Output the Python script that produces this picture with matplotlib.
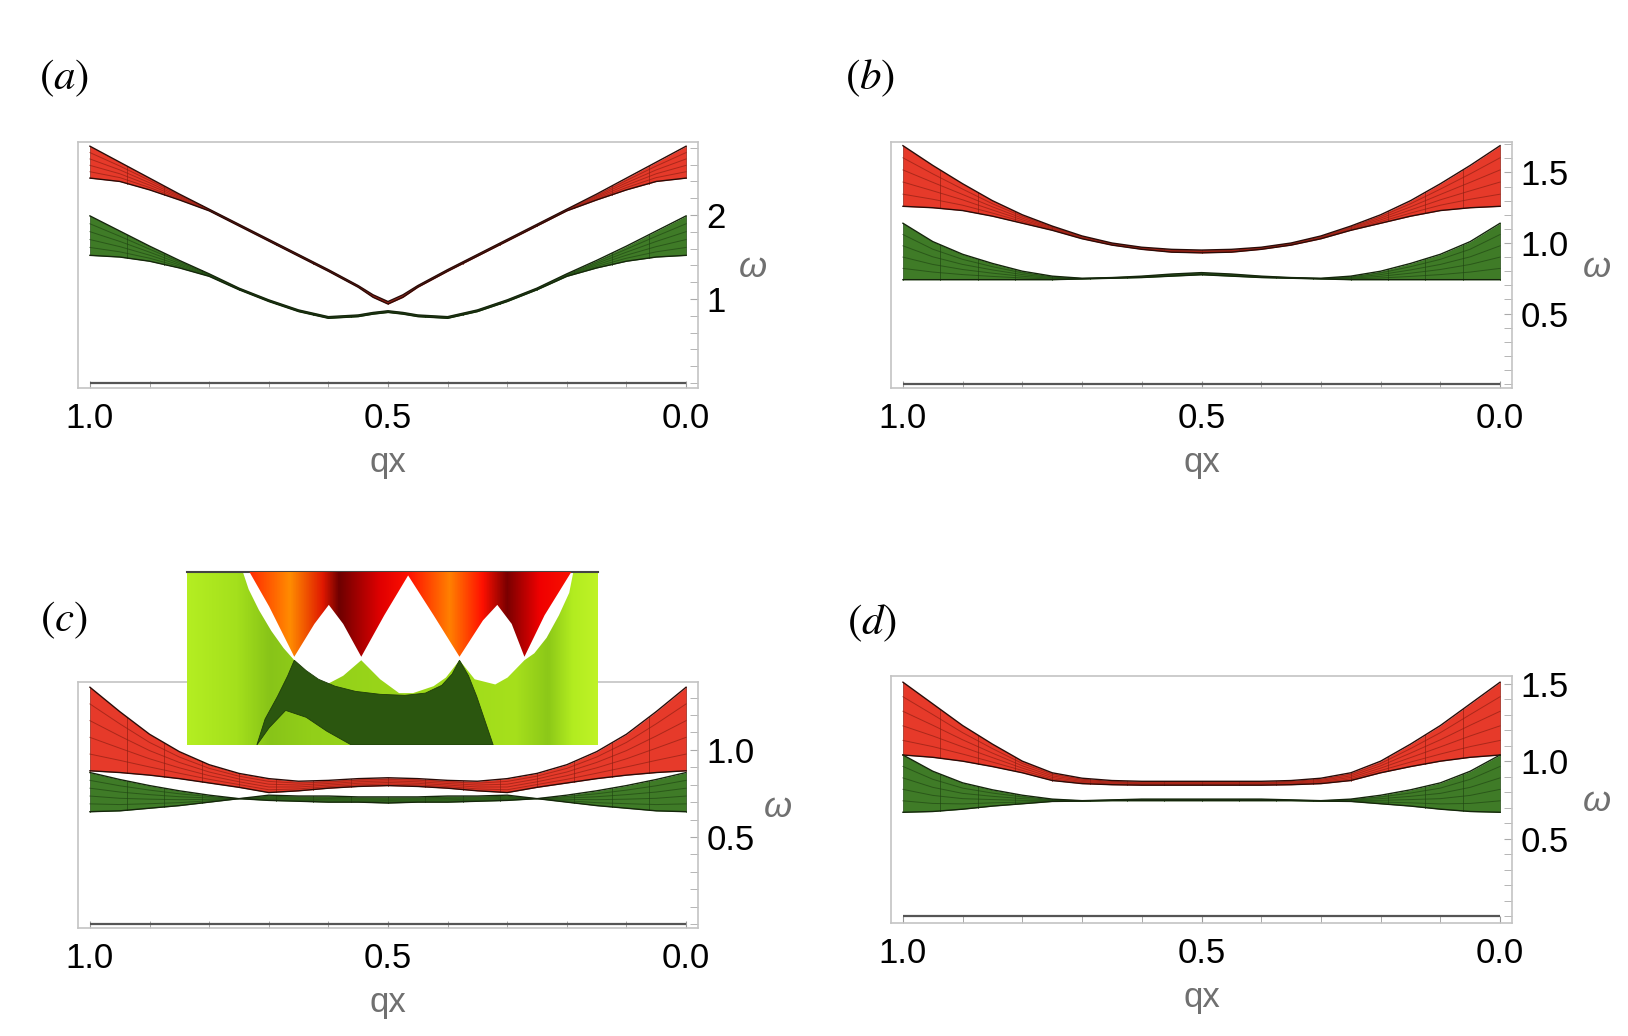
import numpy as np
import matplotlib
matplotlib.use('Agg')
import matplotlib.pyplot as plt
from matplotlib.colors import LinearSegmentedColormap
from matplotlib.patches import Polygon
from matplotlib.ticker import MultipleLocator, FixedLocator

plt.rcParams['font.family'] = ['Liberation Sans Narrow', 'Liberation Sans', 'DejaVu Sans']
plt.rcParams['mathtext.fontset'] = 'stix'

# ============ #
# Dados (lidos) #
# ============ #

qx = np.array([1.0, .95, .9, .85, .8, .75, .7, .65, .6, .55, .5,
               .45, .4, .35, .3, .25, .2, .15, .1, .05, 0.0])
qx_a = np.array([1.0, .95, .9, .85, .8, .75, .7, .65, .6, .55, .525, .5,
                 .475, .45, .4, .35, .3, .25, .2, .15, .1, .05, 0.0])

# (a)
red_hi_a = [2.82, 2.63, 2.44, 2.25, 2.07, 1.89, 1.71, 1.53, 1.35, 1.16, 1.05, 0.97,
            1.05, 1.16, 1.35, 1.53, 1.71, 1.89, 2.07, 2.25, 2.44, 2.63, 2.82]
red_lo_a = [2.44, 2.40, 2.30, 2.18, 2.05, 1.87, 1.69, 1.51, 1.33, 1.14, 1.02, 0.94,
            1.02, 1.14, 1.33, 1.51, 1.69, 1.87, 2.05, 2.18, 2.30, 2.40, 2.44]
grn_hi_a = [1.99, 1.81, 1.63, 1.46, 1.30, 1.13, 0.99, 0.87, 0.79, 0.81, 0.84, 0.86,
            0.84, 0.81, 0.79, 0.87, 0.99, 1.13, 1.30, 1.46, 1.63, 1.81, 1.99]
grn_lo_a = [1.52, 1.50, 1.45, 1.37, 1.27, 1.11, 0.97, 0.85, 0.77, 0.79, 0.82, 0.84,
            0.82, 0.79, 0.77, 0.85, 0.97, 1.11, 1.27, 1.37, 1.45, 1.50, 1.52]

# (b)
red_hi_b = [1.69, 1.55, 1.42, 1.30, 1.20, 1.12, 1.05, 1.00, 0.97, 0.955, 0.95,
            0.955, 0.97, 1.00, 1.05, 1.12, 1.20, 1.30, 1.42, 1.55, 1.69]
red_lo_b = [1.26, 1.25, 1.23, 1.19, 1.14, 1.09, 1.03, 0.985, 0.955, 0.935, 0.93,
            0.935, 0.955, 0.985, 1.03, 1.09, 1.14, 1.19, 1.23, 1.25, 1.26]
grn_hi_b = [1.14, 1.01, 0.92, 0.855, 0.80, 0.765, 0.75, 0.755, 0.765, 0.78, 0.79,
            0.78, 0.765, 0.755, 0.75, 0.765, 0.80, 0.855, 0.92, 1.01, 1.14]
grn_lo_b = [0.74, 0.74, 0.74, 0.74, 0.74, 0.74, 0.745, 0.75, 0.755, 0.765, 0.775,
            0.765, 0.755, 0.75, 0.745, 0.74, 0.74, 0.74, 0.74, 0.74, 0.74]

# (c)
red_hi_c = [1.36, 1.22, 1.09, 0.99, 0.915, 0.865, 0.835, 0.82, 0.825, 0.835, 0.84,
            0.835, 0.825, 0.82, 0.835, 0.865, 0.915, 0.99, 1.09, 1.22, 1.36]
red_lo_c = [0.88, 0.87, 0.855, 0.835, 0.81, 0.785, 0.755, 0.765, 0.78, 0.79, 0.795,
            0.79, 0.78, 0.765, 0.755, 0.785, 0.81, 0.835, 0.855, 0.87, 0.88]
grn_hi_c = [0.87, 0.83, 0.795, 0.765, 0.74, 0.72, 0.74, 0.735, 0.735, 0.73, 0.73,
            0.73, 0.735, 0.735, 0.74, 0.72, 0.74, 0.765, 0.795, 0.83, 0.87]
grn_lo_c = [0.645, 0.65, 0.665, 0.68, 0.70, 0.72, 0.71, 0.705, 0.70, 0.70, 0.695,
            0.70, 0.70, 0.705, 0.71, 0.72, 0.70, 0.68, 0.665, 0.65, 0.645]

# (d)
red_hi_d = [1.51, 1.37, 1.23, 1.11, 1.00, 0.925, 0.89, 0.875, 0.87, 0.87, 0.87,
            0.87, 0.87, 0.875, 0.89, 0.925, 1.00, 1.11, 1.23, 1.37, 1.51]
red_lo_d = [1.04, 1.025, 1.00, 0.965, 0.925, 0.875, 0.855, 0.848, 0.845, 0.845, 0.845,
            0.845, 0.845, 0.848, 0.855, 0.875, 0.925, 0.965, 1.00, 1.025, 1.04]
grn_hi_d = [1.04, 0.935, 0.86, 0.815, 0.78, 0.755, 0.745, 0.75, 0.755, 0.755, 0.755,
            0.755, 0.755, 0.75, 0.745, 0.755, 0.78, 0.815, 0.86, 0.935, 1.04]
grn_lo_d = [0.67, 0.675, 0.69, 0.71, 0.725, 0.74, 0.742, 0.745, 0.745, 0.745, 0.745,
            0.745, 0.745, 0.745, 0.742, 0.74, 0.725, 0.71, 0.69, 0.675, 0.67]

# inset de (c): perfis em coordenadas normalizadas (u, v)
inset_red_u = [0.152, 0.20, 0.261, 0.31, 0.345, 0.38, 0.424, 0.48, 0.538,
               0.60, 0.663, 0.72, 0.755, 0.79, 0.821, 0.87, 0.935]
inset_red_v = [1.0, 0.80, 0.51, 0.70, 0.81, 0.70, 0.51, 0.75, 0.98,
               0.75, 0.51, 0.72, 0.81, 0.70, 0.51, 0.75, 1.0]
inset_gap_u = [0.136, 0.94, 0.93, 0.905, 0.875, 0.845, 0.821, 0.78, 0.75, 0.70, 0.663,
               0.63, 0.60, 0.55, 0.516, 0.47, 0.424, 0.38, 0.34, 0.30, 0.261,
               0.235, 0.205, 0.175, 0.15]
inset_gap_v = [1.0, 1.0, 0.88, 0.75, 0.62, 0.53, 0.49, 0.39, 0.35, 0.38, 0.49,
               0.39, 0.34, 0.30, 0.30, 0.38, 0.49, 0.40, 0.35, 0.40, 0.49,
               0.56, 0.66, 0.78, 0.90]
inset_dark_u = [0.261, 0.29, 0.32, 0.36, 0.41, 0.47, 0.53, 0.58, 0.62, 0.645, 0.663,
                0.685, 0.705, 0.725, 0.745, 0.40, 0.34, 0.29, 0.24, 0.20, 0.17,
                0.19, 0.22, 0.245]
inset_dark_v = [0.49, 0.43, 0.38, 0.34, 0.31, 0.293, 0.287, 0.30, 0.345, 0.41, 0.49,
                0.40, 0.28, 0.14, 0.0, 0.0, 0.08, 0.16, 0.20, 0.10, 0.0,
                0.15, 0.28, 0.40]

W, H = 1628, 1036


def band(ax, x, lo, hi, face, edge, mesh):
    x = np.asarray(x); lo = np.asarray(lo); hi = np.asarray(hi)
    ax.fill_between(x, lo, hi, color=face, lw=0, zorder=2)
    for f in (0.2, 0.4, 0.6, 0.8):
        ax.plot(x, lo + f * (hi - lo), color=mesh, lw=0.7, alpha=0.65, zorder=3)
    for q in np.arange(0, 1.0001, 1 / 16):
        y0 = np.interp(q, x[::-1], lo[::-1])
        y1 = np.interp(q, x[::-1], hi[::-1])
        ax.plot([q, q], [y0, y1], color=mesh, lw=0.7, alpha=0.65, zorder=3)
    ax.plot(x, hi, color=edge, lw=1.0, zorder=4)
    ax.plot(x, lo, color=edge, lw=1.0, zorder=4)


def style(ax, ylim, yticks, ylabels, yminor, wx):
    ax.set_xlim(1.02, -0.02)
    ax.set_ylim(*ylim)
    for s in ax.spines.values():
        s.set_color('#c4c4c4')
        s.set_linewidth(1.2)
    ax.xaxis.set_major_locator(FixedLocator([1.0, 0.5, 0.0]))
    ax.set_xticklabels(['1.0', '0.5', '0.0'])
    ax.xaxis.set_minor_locator(MultipleLocator(0.1))
    ax.tick_params(axis='x', which='both', direction='in', length=5, color='#999999',
                   labelsize=25, pad=10)
    ax.yaxis.tick_right()
    ax.set_yticks(yticks)
    ax.set_yticklabels(ylabels)
    ax.yaxis.set_minor_locator(MultipleLocator(yminor))
    ax.tick_params(axis='y', which='both', direction='in', length=6, color='#aaaaaa',
                   labelsize=25, pad=6)
    ax.hlines(0, 0, 1, color='#555555', lw=1.6, zorder=5)
    ax.set_xlabel('qx', color='#707070', fontsize=25, labelpad=8)
    ax.text(wx, 0.49, 'ω', transform=ax.transAxes, fontsize=26, color='#707070',
            style='italic', ha='center', va='center')


def pos(x0, x1, y0, y1):
    return [x0 / W, 1 - y1 / H, (x1 - x0) / W, (y1 - y0) / H]


fig = plt.figure(figsize=(W / 100, H / 100), dpi=100)

RED, RED_E, RED_M = '#e63a2a', '#2a0c08', '#8c1e12'
GRN, GRN_E, GRN_M = '#3f7b27', '#15260c', '#1f4512'

ax_a = fig.add_axes(pos(78, 698, 142, 388))
band(ax_a, qx_a, red_lo_a, red_hi_a, RED, RED_E, RED_M)
band(ax_a, qx_a, grn_lo_a, grn_hi_a, GRN, GRN_E, GRN_M)
style(ax_a, (-0.06, 2.87), [1, 2], ['1', '2'], 0.2, 1.089)

ax_b = fig.add_axes(pos(891, 1512, 142, 388))
band(ax_b, qx, red_lo_b, red_hi_b, RED, RED_E, RED_M)
band(ax_b, qx, grn_lo_b, grn_hi_b, GRN, GRN_E, GRN_M)
style(ax_b, (-0.028, 1.716), [0.5, 1.0, 1.5], ['0.5', '1.0', '1.5'], 0.1, 1.137)

ax_c = fig.add_axes(pos(78, 698, 682, 928))
band(ax_c, qx, grn_lo_c, grn_hi_c, GRN, GRN_E, GRN_M)
band(ax_c, qx, red_lo_c, red_hi_c, RED, RED_E, RED_M)
style(ax_c, (-0.023, 1.39), [0.5, 1.0], ['0.5', '1.0'], 0.1, 1.129)

ax_d = fig.add_axes(pos(891, 1512, 676, 923))
band(ax_d, qx, red_lo_d, red_hi_d, RED, RED_E, RED_M)
band(ax_d, qx, grn_lo_d, grn_hi_d, GRN, GRN_E, GRN_M)
style(ax_d, (-0.045, 1.55), [0.5, 1.0, 1.5], ['0.5', '1.0', '1.5'], 0.1, 1.137)

# ===== #
# Inset #
# ===== #

ax_in = fig.add_axes(pos(187, 598, 572, 745))
ax_in.set_xlim(0, 1)
ax_in.set_ylim(0, 1)
ax_in.set_xticks([])
ax_in.set_yticks([])
for k, s in ax_in.spines.items():
    s.set_visible(k == 'top')
ax_in.spines['top'].set_color('#444444')
ax_in.spines['top'].set_linewidth(1.5)

grad = np.linspace(0, 1, 256)[None, :]
lime = LinearSegmentedColormap.from_list('lime', [
    (0, '#b4ee22'), (0.12, '#a4e01c'), (0.2, '#88c418'), (0.3, '#92cf19'),
    (0.5, '#9ad61a'), (0.8, '#a6e01c'), (0.88, '#8cc818'), (0.94, '#b2ec20'),
    (1, '#bff326')])
ax_in.imshow(grad, extent=[0, 1, 0, 1], aspect='auto', cmap=lime, zorder=0)

ax_in.add_patch(Polygon(np.column_stack([inset_gap_u, inset_gap_v]),
                        closed=True, fc='white', ec='none', zorder=1))

dark = Polygon(np.column_stack([inset_dark_u, inset_dark_v]), closed=True,
               fc='#2b560f', ec='#1e3d0a', lw=0.6, zorder=2)
ax_in.add_patch(dark)

cones = LinearSegmentedColormap.from_list('cones', [
    (0, '#ff2000'), (0.15, '#ff2a00'), (0.25, '#ff8c00'), (0.33, '#e01800'),
    (0.37, '#6e0000'), (0.47, '#e00000'), (0.54, '#ff1000'), (0.64, '#ff8000'),
    (0.72, '#ff1000'), (0.78, '#7a0000'), (0.86, '#f00000'), (1.0, '#ff2000')])
red_poly = Polygon(np.column_stack([inset_red_u, inset_red_v]), closed=True,
                   fc='none', ec='none')
ax_in.add_patch(red_poly)
im = ax_in.imshow(grad, extent=[0, 1, 0, 1], aspect='auto', cmap=cones, zorder=3)
im.set_clip_path(red_poly)

# ======== #
# Rótulos  #
# ======== #

for lab, (x, y) in zip(['a', 'b', 'c', 'd'], [(64, 78), (870, 78), (64, 620), (872, 623)]):
    fig.text(x / W, 1 - y / H, '$(%s)$' % lab, fontsize=31, ha='center', va='center')

fig.savefig('out.png', dpi=100)
